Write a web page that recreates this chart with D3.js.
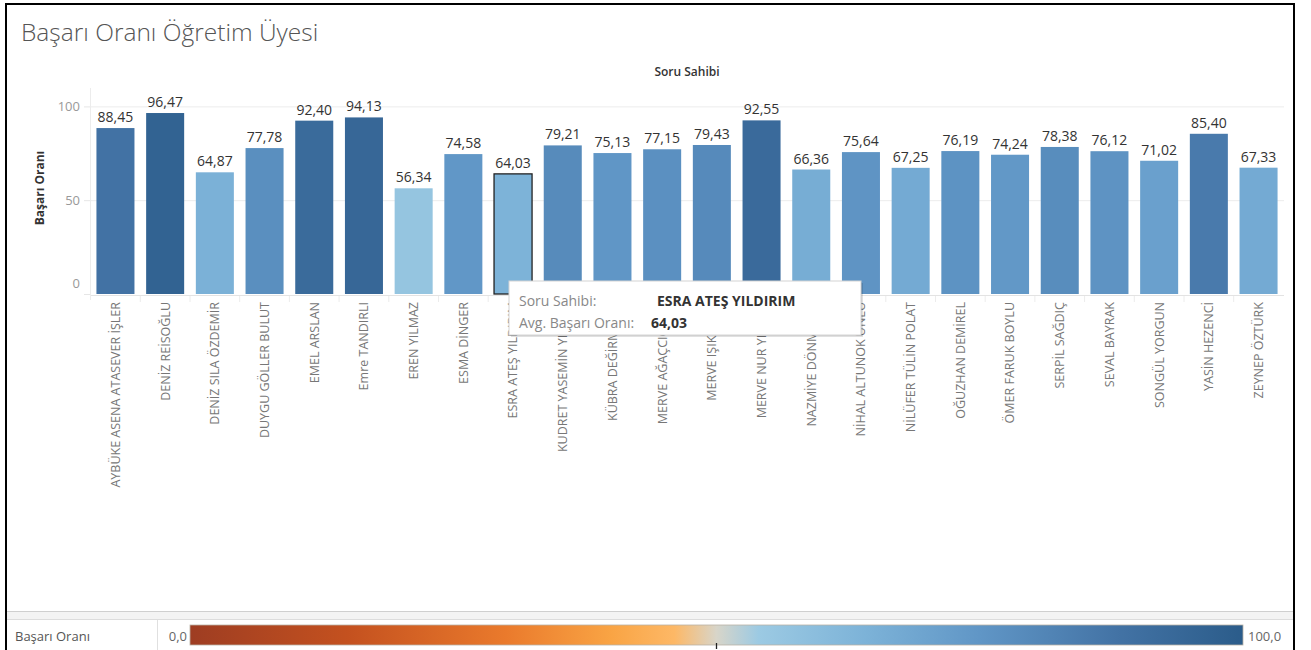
<!DOCTYPE html>
<html>
<head>
<meta charset="utf-8">
<script src="https://cdn.jsdelivr.net/npm/d3@7"></script>
<style>
  html, body { margin: 0; padding: 0; background: #fff; }
  svg { display: block; font-family: "Open Sans", "Noto Sans", sans-serif; }
</style>
</head>
<body>
<svg id="chart" width="1311" height="650"></svg>
<script>
// ---- data ----
const names = [
  "AYBÜKE ASENA ATASEVER İŞLER", "DENİZ REİSOĞLU", "DENİZ SILA ÖZDEMİR", "DUYGU GÖLLER BULUT",
  "EMEL ARSLAN", "Emre TANDIRLI", "EREN YILMAZ", "ESMA DİNGER", "ESRA ATEŞ YILDIRIM",
  "KUDRET YASEMİN YILMAZ", "KÜBRA DEĞİRMENCİ", "MERVE AĞAÇCIOĞLU", "MERVE IŞIK KAYA",
  "MERVE NUR YILMAZ", "NAZMİYE DÖNMEZER", "NİHAL ALTUNOK ÜNLÜ", "NİLÜFER TÜLİN POLAT",
  "OĞUZHAN DEMİREL", "ÖMER FARUK BOYLU", "SERPİL SAĞDIÇ", "SEVAL BAYRAK", "SONGÜL YORGUN",
  "YASİN HEZENCİ", "ZEYNEP ÖZTÜRK"
];
const values = [
  88.45, 96.47, 64.87, 77.78, 92.40, 94.13, 56.34, 74.58, 64.03,
  79.21, 75.13, 77.15, 79.43, 92.55, 66.36, 75.64, 67.25,
  76.19, 74.24, 78.38, 76.12, 71.02, 85.40, 67.33
];
const yTicks = [0, 50, 100];
const colorDomain = [0, 15, 30, 40, 46, 50, 54, 64, 75, 88, 100];
const colorRange = ["#9e3d22", "#c4511f", "#ea7a2c", "#f9a444", "#fdb866", "#d8d5c9",
                    "#9ccae3", "#7db3d8", "#6096c6", "#4373a5", "#2b5c8a"];
const selected = "ESRA ATEŞ YILDIRIM";
const title = "Başarı Oranı Öğretim Üyesi";
const fmt = v => d3.format(".2f")(v).replace(".", ",");

const data = names.map((n, i) => ({ name: n, value: values[i] }));

const svg = d3.select("#chart");

// scales
const x = d3.scaleBand().domain(names).range([90.6, 1283.4]).paddingInner(0.235).paddingOuter(0.1175);
const y = d3.scaleLinear().domain([0, 100]).range([294, 106.4]);
const color = d3.scaleLinear().domain(colorDomain).range(colorRange).interpolate(d3.interpolateRgb);

// title
svg.append("text").attr("x", 21).attr("y", 41).text(title)
  .attr("font-size", 24.5).attr("font-weight", 300).attr("fill", "#555");

// header
svg.append("text").attr("x", (x.range()[0] + x.range()[1]) / 2).attr("y", 76)
  .attr("text-anchor", "middle").attr("font-size", 12).attr("font-weight", 600)
  .attr("fill", "#333").text("Soru Sahibi");

// gridlines
const grid = svg.append("g");
grid.selectAll("line").data(yTicks.filter(d => d > 0)).join("line")
  .attr("x1", 90).attr("x2", 1284).attr("y1", d => y(d) + 0.5).attr("y2", d => y(d) + 0.5)
  .attr("stroke", "#ececec");
// zero line and vertical axis line
svg.append("line").attr("x1", 90).attr("x2", 1284).attr("y1", y(0) + 1.5).attr("y2", y(0) + 1.5).attr("stroke", "#e3e3e3");
svg.append("line").attr("x1", 90.5).attr("x2", 90.5).attr("y1", 88).attr("y2", 300).attr("stroke", "#ececec");

// y axis
const yAxis = d3.axisLeft(y).tickValues(yTicks).tickSize(6).tickPadding(4);
const yg = svg.append("g").attr("transform", "translate(90,0)").call(yAxis);
yg.select(".domain").remove();
yg.selectAll(".tick line").attr("stroke", "#e6e6e6");
yg.selectAll(".tick text").attr("font-size", 13).attr("fill", "#999").attr("font-family", "'Open Sans', sans-serif")
  .attr("dy", d => d === 0 ? "-0.5em" : "0.32em");

svg.append("text").attr("transform", "translate(44,188) rotate(-90)")
  .attr("text-anchor", "middle").attr("font-size", 12).attr("font-weight", 700)
  .attr("fill", "#333").text("Başarı Oranı");

// x axis (category labels)
const xAxis = d3.axisBottom(x).tickSize(0).tickPadding(0);
const xg = svg.append("g").attr("transform", `translate(0,${y(0) + 2})`).call(xAxis);
xg.select(".domain").remove();
xg.selectAll(".tick text")
  .attr("transform", "rotate(-90)")
  .attr("text-anchor", "end")
  .attr("x", -6).attr("y", 0).attr("dy", "0.35em")
  .attr("font-size", 12.5).attr("fill", "#777").attr("font-family", "'Open Sans', sans-serif");
// small separators between categories
svg.append("g").selectAll("line").data(names.slice(1)).join("line")
  .attr("x1", d => x(d) - x.step() * x.paddingInner() / 2).attr("x2", d => x(d) - x.step() * x.paddingInner() / 2)
  .attr("y1", y(0) + 2).attr("y2", y(0) + 8).attr("stroke", "#ececec");

// bars
svg.append("g").selectAll("rect").data(data).join("rect")
  .attr("x", d => x(d.name)).attr("width", x.bandwidth())
  .attr("y", d => y(d.value)).attr("height", d => y(0) - y(d.value))
  .attr("fill", d => color(d.value))
  .attr("stroke", d => d.name === selected ? "#222" : "none")
  .attr("stroke-width", 1.3);

// value labels
svg.append("g").selectAll("text").data(data).join("text")
  .attr("x", d => x(d.name) + x.bandwidth() / 2).attr("y", d => y(d.value) - 6)
  .attr("text-anchor", "middle").attr("font-size", 14).attr("fill", "#333")
  .text(d => fmt(d.value));

// tooltip
const sel = data.find(d => d.name === selected);
const tip = svg.append("g").attr("transform", "translate(509,281)");
tip.append("rect").attr("x", 2).attr("y", 2).attr("width", 352).attr("height", 54).attr("fill", "#000").attr("opacity", 0.12);
tip.append("rect").attr("x", 1).attr("y", 1).attr("width", 352).attr("height", 54).attr("fill", "#000").attr("opacity", 0.08);
tip.append("rect").attr("width", 352).attr("height", 54).attr("fill", "#fff").attr("stroke", "#d4d4d4");
tip.append("text").attr("x", 10).attr("y", 25).attr("font-size", 14).attr("fill", "#888").text("Soru Sahibi:");
tip.append("text").attr("x", 148).attr("y", 25).attr("font-size", 14).attr("font-weight", 700).attr("fill", "#333").text(sel.name);
tip.append("text").attr("x", 10).attr("y", 47).attr("font-size", 14).attr("fill", "#888").text("Avg. Başarı Oranı:");
tip.append("text").attr("x", 142).attr("y", 47).attr("font-size", 14).attr("font-weight", 700).attr("fill", "#333").text(fmt(sel.value));

// legend area
svg.append("rect").attr("x", 7).attr("y", 611).attr("width", 1287).attr("height", 8).attr("fill", "#f3f3f3");
svg.append("line").attr("x1", 7).attr("x2", 1294).attr("y1", 611.5).attr("y2", 611.5).attr("stroke", "#cfcfcf");
svg.append("line").attr("x1", 7).attr("x2", 1294).attr("y1", 619.5).attr("y2", 619.5).attr("stroke", "#dcdcdc");
svg.append("line").attr("x1", 157.5).attr("x2", 157.5).attr("y1", 620).attr("y2", 650).attr("stroke", "#e0e0e0");
svg.append("text").attr("x", 15).attr("y", 641).attr("font-size", 13).attr("fill", "#555").text("Başarı Oranı");

const defs = svg.append("defs");
const lg = defs.append("linearGradient").attr("id", "legendGrad").attr("x1", "0%").attr("x2", "100%");
lg.selectAll("stop").data(colorDomain).join("stop")
  .attr("offset", d => d + "%").attr("stop-color", d => color(d));
const legX = d3.scaleLinear().domain([0, 100]).range([190, 1243]);
svg.append("rect").attr("x", legX(0)).attr("y", 625).attr("width", legX(100) - legX(0)).attr("height", 20)
  .attr("fill", "url(#legendGrad)").attr("stroke", "#b9b2a6").attr("stroke-width", 0.8);
svg.append("line").attr("x1", legX(50)).attr("x2", legX(50)).attr("y1", 643).attr("y2", 649).attr("stroke", "#222").attr("stroke-width", 1.3);
svg.append("text").attr("x", legX(0) - 3).attr("y", 641).attr("text-anchor", "end").attr("font-size", 13).attr("fill", "#666").text("0,0");
svg.append("text").attr("x", legX(100) + 5).attr("y", 641).attr("font-size", 13).attr("fill", "#666").text("100,0");

// frame
svg.append("line").attr("x1", 6).attr("x2", 6).attr("y1", 3).attr("y2", 650).attr("stroke", "#000").attr("stroke-width", 2);
svg.append("line").attr("x1", 5).attr("x2", 1295).attr("y1", 4).attr("y2", 4).attr("stroke", "#000").attr("stroke-width", 2);
svg.append("line").attr("x1", 1294).attr("x2", 1294).attr("y1", 3).attr("y2", 650).attr("stroke", "#000").attr("stroke-width", 2);
</script>
</body>
</html>
